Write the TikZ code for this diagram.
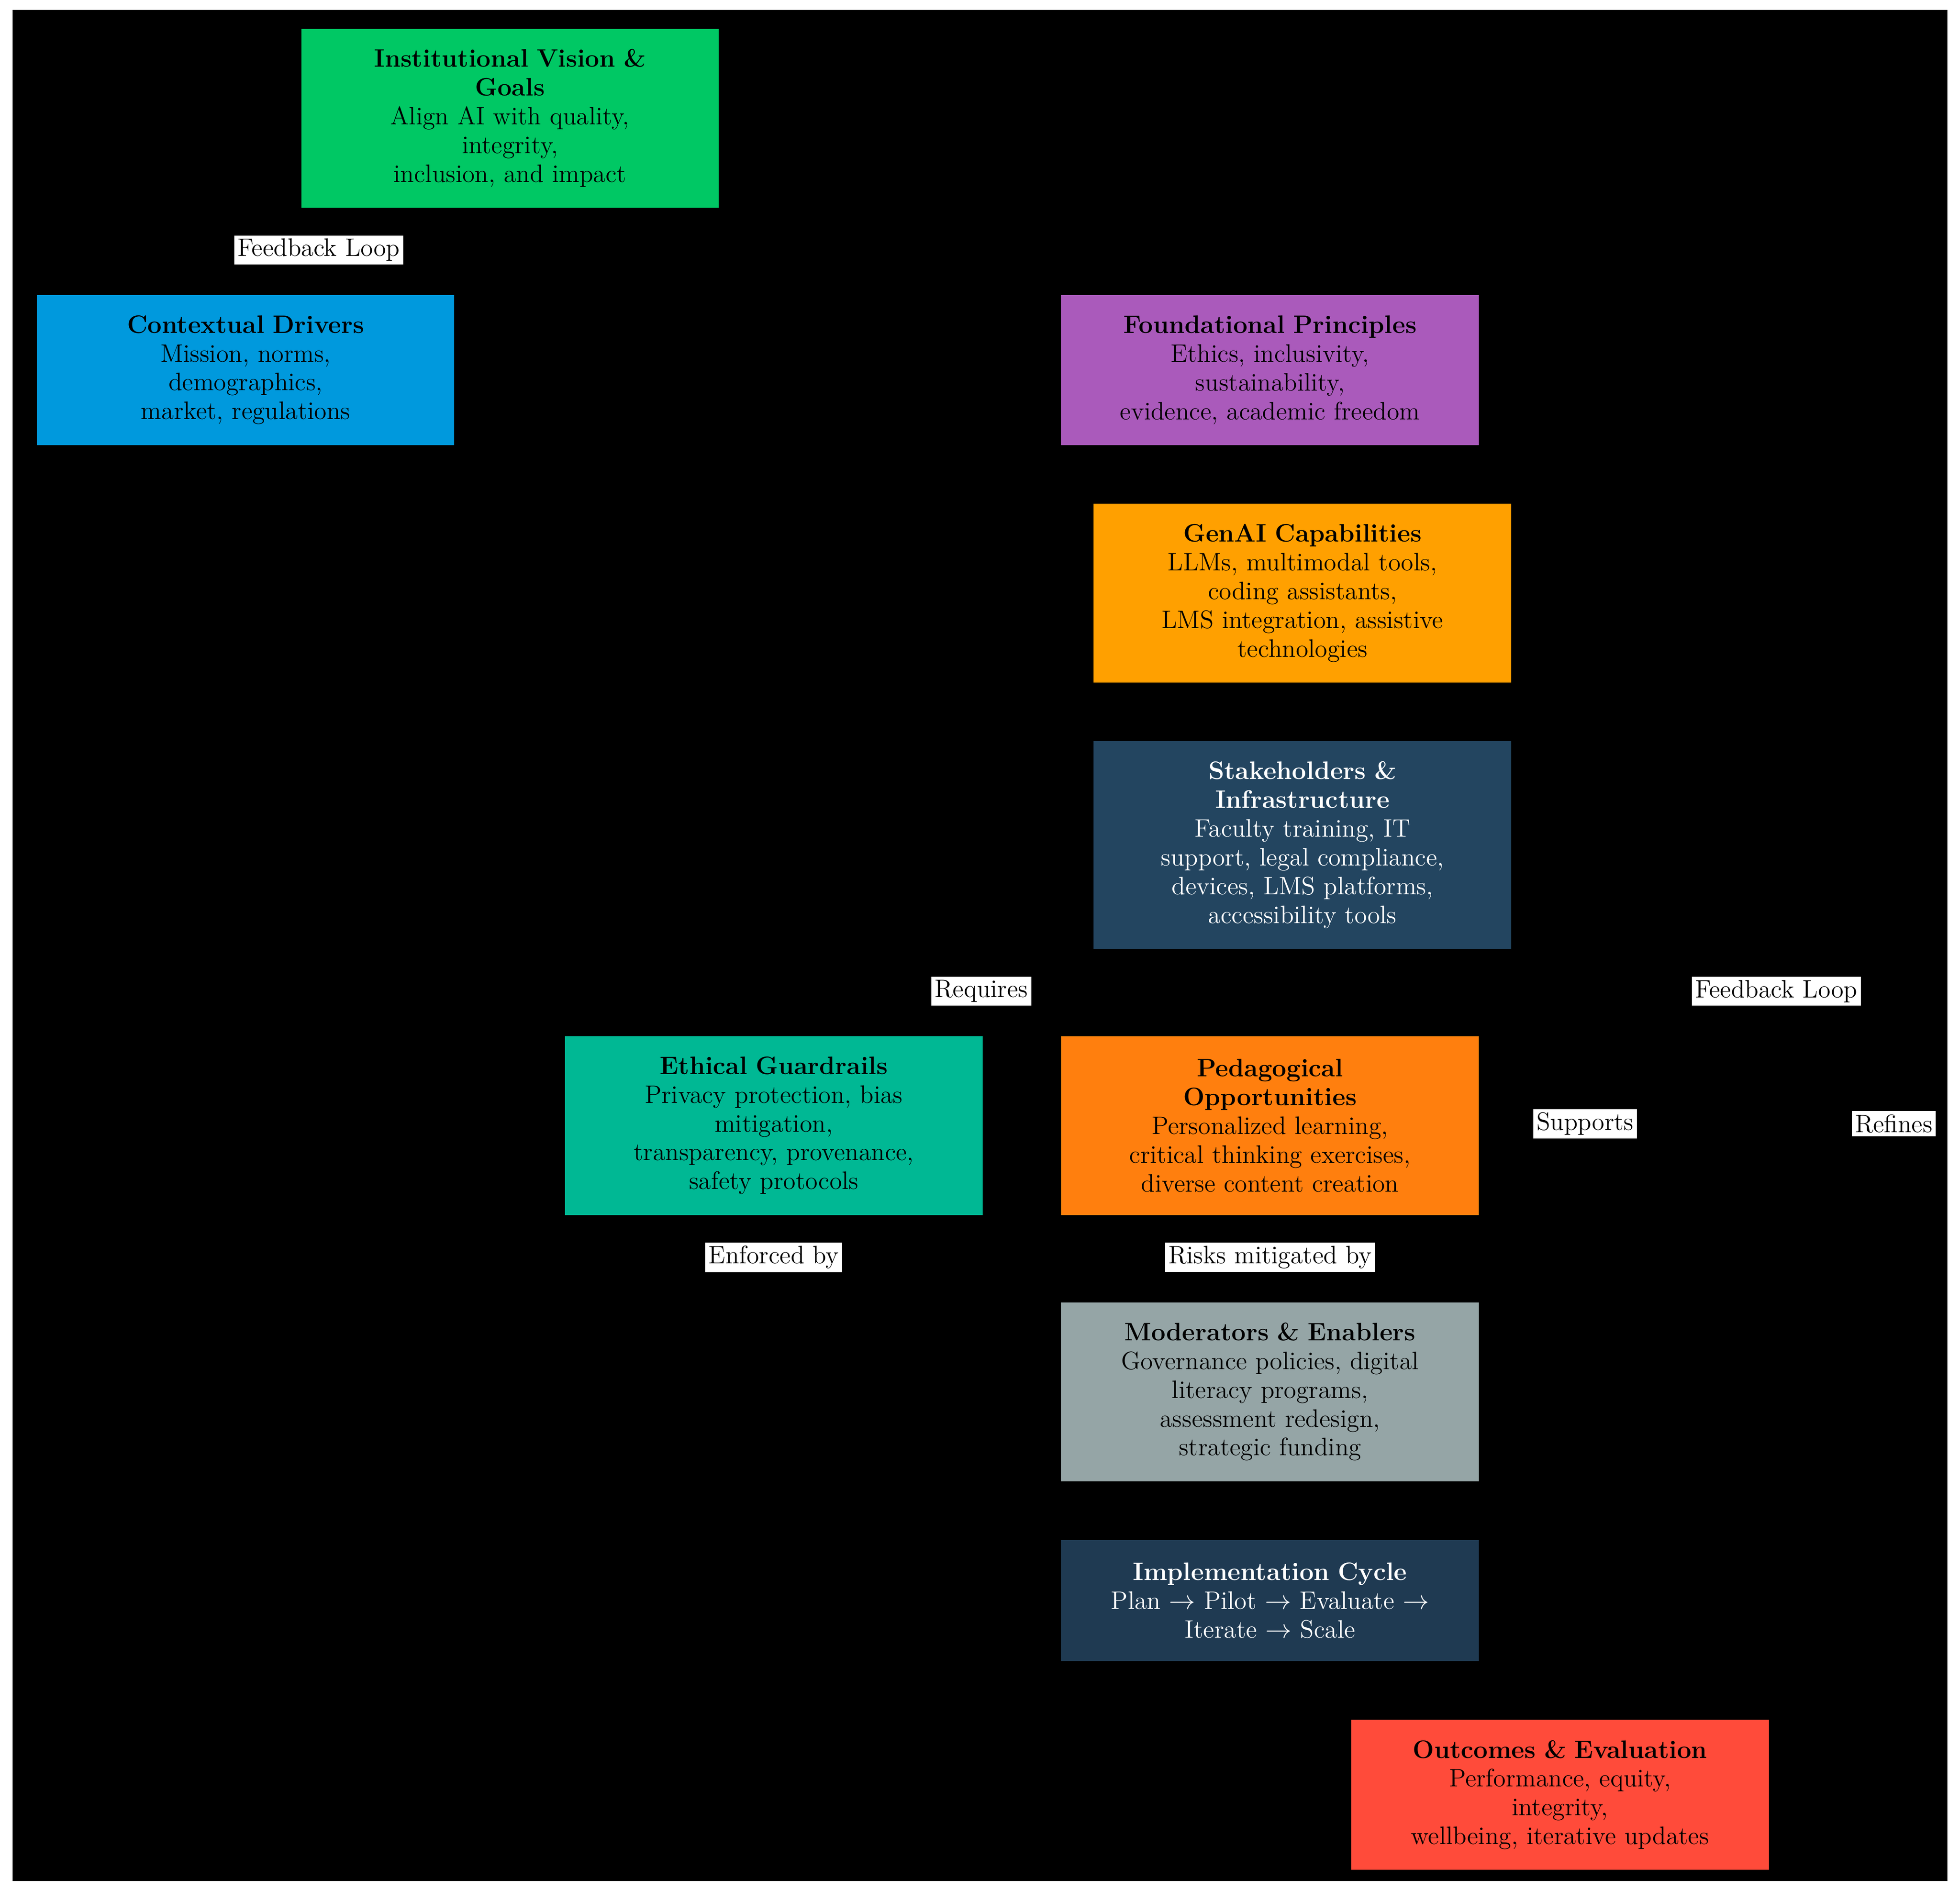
\documentclass[tikz,border=0pt]{standalone}
\usepackage{tikz}
\usepackage{xcolor}
\usetikzlibrary{shapes,arrows,positioning,fit,backgrounds}

\definecolor{visiongreen}{HTML}{00C864}
\definecolor{driverblue}{HTML}{0099DD}
\definecolor{principlepurple}{HTML}{AA5ABB}
\definecolor{genaiorange}{HTML}{FFA000}
\definecolor{stakenavy}{HTML}{234560}
\definecolor{ethicteal}{HTML}{00B894}
\definecolor{pedaorange}{HTML}{FF7F0E}
\definecolor{modgrey}{HTML}{95A5A6}
\definecolor{implnavy}{HTML}{1F3A52}
\definecolor{outred}{HTML}{FF4B3A}

\begin{document}
\begin{tikzpicture}
            \tikzstyle{block} = [rectangle, draw=none, text width=6.3cm, align=center, minimum width=6.68cm, font=\fontsize{11.5}{13.1}\selectfont, inner sep=0pt]
            \tikzstyle{edgelabel} = [fill=white, text=black, inner sep=1.5pt, font=\fontsize{11.5}{13}\selectfont]

            \fill [white] (0,0) rectangle (31.36,-30.24);
            \fill [black] (0.2,-0.16) rectangle (31.16,-30.1);

            \node [block, fill=visiongreen, minimum height=2.86cm] (vision) at (8.16,-1.89) {\textbf{Institutional Vision \&\\Goals}\\Align AI with quality,\\integrity,\\inclusion, and impact};
            \node [block, fill=driverblue, minimum height=2.4cm] (drivers) at (3.93,-5.92) {\textbf{Contextual Drivers}\\Mission, norms,\\demographics,\\market, regulations};
            \node [block, fill=principlepurple, minimum height=2.4cm] (principles) at (20.32,-5.92) {\textbf{Foundational Principles}\\Ethics, inclusivity,\\sustainability,\\evidence, academic freedom};
            \node [block, fill=genaiorange, minimum height=2.86cm] (genai) at (20.84,-9.49) {\textbf{GenAI Capabilities}\\LLMs, multimodal tools,\\coding assistants,\\LMS integration, assistive\\technologies};
            \node [block, fill=stakenavy, text=white, minimum height=3.32cm] (stakeholders) at (20.84,-13.52) {\textbf{Stakeholders \&\\Infrastructure}\\Faculty training, IT\\support, legal compliance,\\devices, LMS platforms,\\accessibility tools};
            \node [block, fill=ethicteal, minimum height=2.86cm] (guardrails) at (12.38,-18.01) {\textbf{Ethical Guardrails}\\Privacy protection, bias\\mitigation,\\transparency, provenance,\\safety protocols};
            \node [block, fill=pedaorange, minimum height=2.86cm] (pedagogy) at (20.32,-18.01) {\textbf{Pedagogical\\Opportunities}\\Personalized learning,\\critical thinking exercises,\\diverse content creation};
            \node [block, fill=modgrey, minimum height=2.86cm] (moderators) at (20.32,-22.27) {\textbf{Moderators \& Enablers}\\Governance policies, digital\\literacy programs,\\assessment redesign,\\strategic funding};
            \node [block, fill=implnavy, text=white, minimum height=1.94cm] (cycle) at (20.32,-25.61) {\textbf{Implementation Cycle}\\Plan $\rightarrow$ Pilot $\rightarrow$ Evaluate $\rightarrow$\\Iterate $\rightarrow$ Scale};
            \node [block, fill=outred, minimum height=2.4cm] (outcomes) at (24.96,-28.72) {\textbf{Outcomes \& Evaluation}\\Performance, equity,\\integrity,\\wellbeing, iterative updates};

            \node [edgelabel] (lfeedtop) at (5.1,-4.0) {Feedback Loop};
            \node [edgelabel] (lrequires) at (15.7,-15.86) {Requires};
            \node [edgelabel] (lfeedright) at (28.42,-15.86) {Feedback Loop};
            \node [edgelabel] (lsupports) at (25.36,-17.98) {Supports};
            \node [edgelabel] (lrefines) at (30.3,-17.98) {Refines};
            \node [edgelabel] (lenforced) at (12.38,-20.12) {Enforced by};
            \node [edgelabel] (lrisks) at (20.32,-20.12) {Risks mitigated by};
        \end{tikzpicture}
\end{document}
